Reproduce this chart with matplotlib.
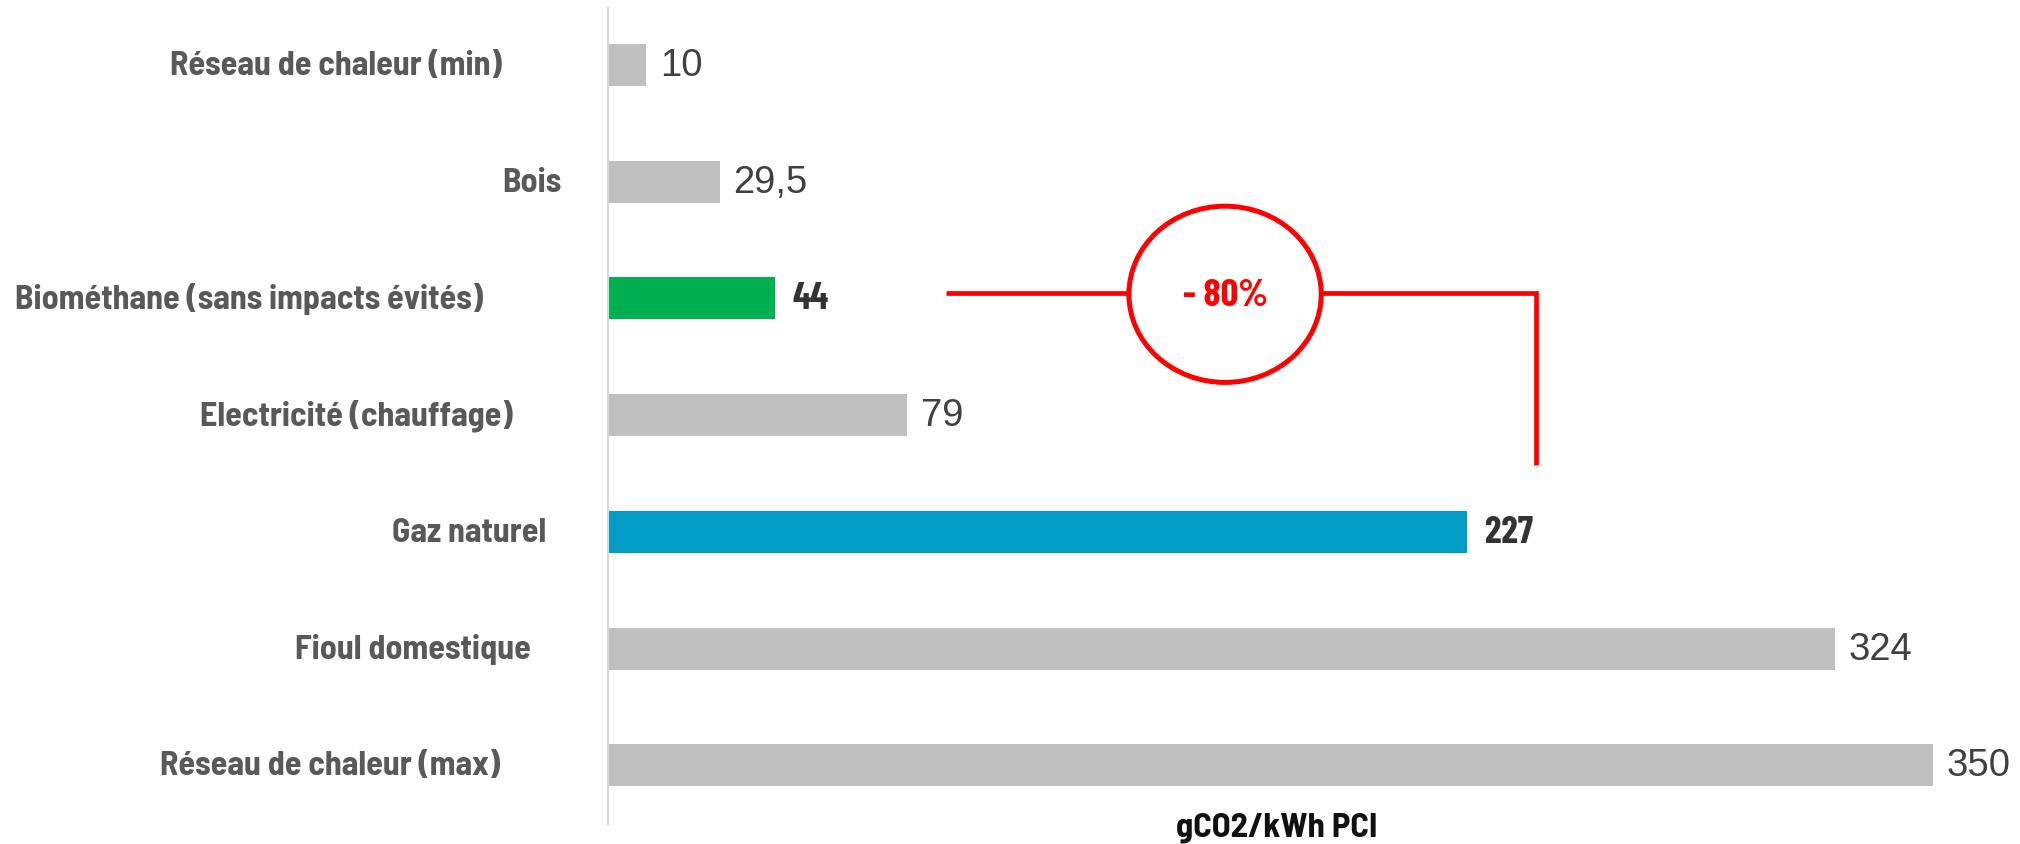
import matplotlib
matplotlib.use("Agg")
import matplotlib.pyplot as plt
import matplotlib.transforms as mtransforms
from matplotlib.patches import Ellipse

# ------------------------
# Data
# ------------------------
categories = [
    "Réseau de chaleur (min)",
    "Bois",
    "Biométhane (sans impacts évités)",
    "Electricité (chauffage)",
    "Gaz naturel",
    "Fioul domestique",
    "Réseau de chaleur (max)",
]
values = [10, 29.5, 44, 79, 227, 324, 350]
value_labels = ["10", "29,5", "44", "79", "227", "324", "350"]
highlight = [False, False, True, False, True, False, False]
bar_colors = ["#BFBFBF", "#BFBFBF", "#00B050", "#BFBFBF", "#009CC5", "#BFBFBF", "#BFBFBF"]
reduction_label = "- 80%"
unit_label = "gCO2/kWh PCI"

# ------------------------
# Layout
# ------------------------
W, H = 2020, 845
label_right_px = [502, 562, 483, 513, 546, 531, 500]   # right edge of category labels
cond = ["Barlow Condensed", "Asap Condensed", "DejaVu Sans"]
semi = ["Barlow Semi Condensed", "Barlow Condensed", "DejaVu Sans"]
plain = ["Liberation Sans", "DejaVu Sans"]

fig = plt.figure(figsize=(W / 100, H / 100), dpi=100)
ax = fig.add_axes([608 / W, 1 - 824.6 / H, 1325 / W, 817 / H])

ypos = list(range(len(categories)))
ax.barh(ypos, values, height=0.36, color=bar_colors)
ax.set_xlim(0, 350)
ax.set_ylim(len(categories) - 0.5, -0.5)
ax.set_xticks([])
ax.set_yticks([])
for side in ["top", "right", "bottom"]:
    ax.spines[side].set_visible(False)
ax.spines["left"].set_color("#D9D9D9")
ax.spines["left"].set_linewidth(1.5)

# category labels
trans = mtransforms.blended_transform_factory(fig.transFigure, ax.transData)
for i, cat in enumerate(categories):
    ax.text(label_right_px[i] / W, i, cat, transform=trans, ha="right", va="center",
            fontsize=24.5, fontweight="bold", family=semi, color="#595959")

# value labels
for i, (v, lab) in enumerate(zip(values, value_labels)):
    if highlight[i]:
        ax.annotate(lab, (v, i), xytext=(13, 0), textcoords="offset points",
                    va="center", ha="left", fontsize=27, fontweight="bold",
                    family=cond, color="#333333", annotation_clip=False)
    else:
        ax.annotate(lab, (v, i), xytext=(10, 0), textcoords="offset points",
                    va="center", ha="left", fontsize=27.5, family=plain,
                    color="#404040", annotation_clip=False)

# ------------------------
# Reduction annotation (biomethane vs natural gas)
# ------------------------
red = "#FF0000"
ann_y = 1.955
cx, ew, eh = 163, 50.8, 1.51
ax.plot([89.4, cx - ew / 2], [ann_y, ann_y], color=red, lw=3.4, solid_capstyle="butt")
ax.plot([cx + ew / 2, 245, 245], [ann_y, ann_y, 3.43], color=red, lw=3.4,
        solid_capstyle="butt", solid_joinstyle="miter")
ax.add_patch(Ellipse((cx, ann_y + 0.01), ew, eh, facecolor="white", edgecolor=red, lw=3.6))
ax.text(cx, ann_y + 0.02, reduction_label, ha="center", va="center", fontsize=28,
        fontweight="bold", family=cond, color=red)

fig.text(1277 / W, 1 - 837 / H, unit_label, ha="center", va="baseline",
         fontsize=25, fontweight="bold", family=semi, color="#111111")

fig.savefig("out.png", dpi=100, facecolor="white")
